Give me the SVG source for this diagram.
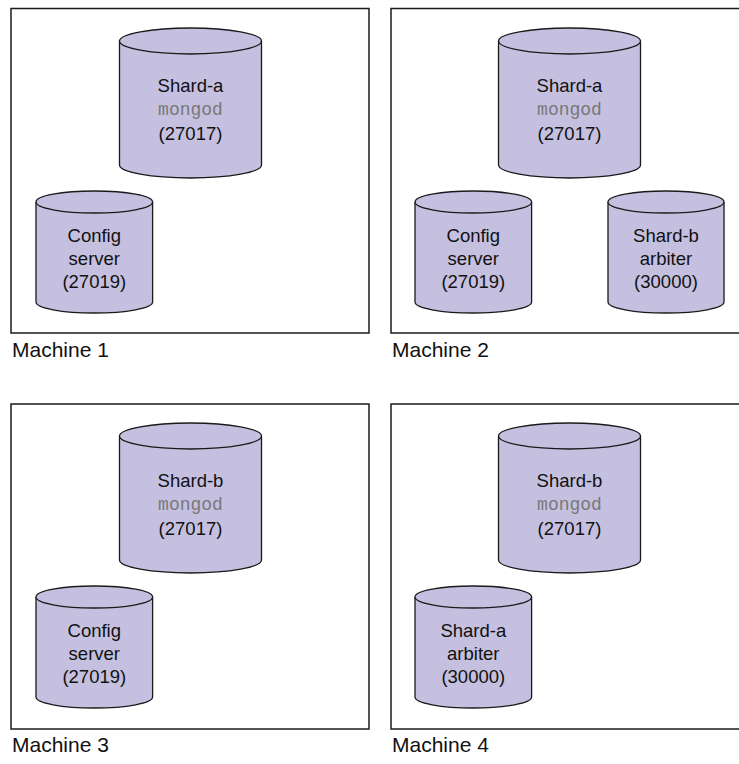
<svg xmlns="http://www.w3.org/2000/svg" width="739" height="764" viewBox="0 0 739 764">
<defs>
<style>
.box{fill:#ffffff;stroke:#1a1a1a;stroke-width:1.5}
.cyl{fill:#c5c0e0;stroke:#1a1a1a;stroke-width:1.3}
.t{font-family:"Liberation Sans",Arial,sans-serif;font-size:18.5px;fill:#111111;text-anchor:middle}
.m{font-family:"Liberation Mono","Courier New",monospace;font-size:18px;fill:#787878;text-anchor:middle}
.lbl{font-family:"Liberation Sans",Arial,sans-serif;font-size:21px;fill:#111111}
</style>
</defs>
<rect width="739" height="764" fill="#ffffff"/>
<g id="machine1">
<rect class="box" x="11" y="8.5" width="358" height="324.5"/>
<text class="lbl" x="12" y="357">Machine 1</text>
</g>
<g id="machine2">
<rect class="box" x="391" y="8.5" width="352" height="324.5"/>
<text class="lbl" x="392" y="357">Machine 2</text>
</g>
<g id="machine3">
<rect class="box" x="11" y="404" width="358" height="325"/>
<text class="lbl" x="12" y="752">Machine 3</text>
</g>
<g id="machine4">
<rect class="box" x="391" y="404" width="352" height="325"/>
<text class="lbl" x="392" y="752">Machine 4</text>
</g>
<g id="m1-shard-a">
<path class="cyl" d="M119.5,41 L119.5,165 A71,13 0 0 0 261.5,165 L261.5,41 A71,13 0 0 0 119.5,41 Z"/>
<path class="cyl" d="M119.5,41 A71,13 0 0 0 261.5,41" fill="none"/>
<text class="t" x="190.5" y="92">Shard-a</text>
<text class="m" x="190.5" y="115">mongod</text>
<text class="t" x="190.5" y="140">(27017)</text>
</g>
<g id="m1-config">
<path class="cyl" d="M36,202 L36,302 A58.3,11 0 0 0 152.6,302 L152.6,202 A58.3,11 0 0 0 36,202 Z"/>
<path class="cyl" d="M36,202 A58.3,11 0 0 0 152.6,202" fill="none"/>
<text class="t" x="94.3" y="242">Config</text>
<text class="t" x="94.3" y="265">server</text>
<text class="t" x="94.3" y="288">(27019)</text>
</g>
<g id="m2-shard-a">
<path class="cyl" d="M498.5,41 L498.5,165 A71,13 0 0 0 640.5,165 L640.5,41 A71,13 0 0 0 498.5,41 Z"/>
<path class="cyl" d="M498.5,41 A71,13 0 0 0 640.5,41" fill="none"/>
<text class="t" x="569.5" y="92">Shard-a</text>
<text class="m" x="569.5" y="115">mongod</text>
<text class="t" x="569.5" y="140">(27017)</text>
</g>
<g id="m2-config">
<path class="cyl" d="M415,202 L415,302 A58.3,11 0 0 0 531.6,302 L531.6,202 A58.3,11 0 0 0 415,202 Z"/>
<path class="cyl" d="M415,202 A58.3,11 0 0 0 531.6,202" fill="none"/>
<text class="t" x="473.3" y="242">Config</text>
<text class="t" x="473.3" y="265">server</text>
<text class="t" x="473.3" y="288">(27019)</text>
</g>
<g id="m2-shard-b-arbiter">
<path class="cyl" d="M608,202 L608,302 A58,11 0 0 0 724,302 L724,202 A58,11 0 0 0 608,202 Z"/>
<path class="cyl" d="M608,202 A58,11 0 0 0 724,202" fill="none"/>
<text class="t" x="666" y="242">Shard-b</text>
<text class="t" x="666" y="265">arbiter</text>
<text class="t" x="666" y="288">(30000)</text>
</g>
<g id="m3-shard-b">
<path class="cyl" d="M119.5,436 L119.5,560 A71,13 0 0 0 261.5,560 L261.5,436 A71,13 0 0 0 119.5,436 Z"/>
<path class="cyl" d="M119.5,436 A71,13 0 0 0 261.5,436" fill="none"/>
<text class="t" x="190.5" y="487">Shard-b</text>
<text class="m" x="190.5" y="510">mongod</text>
<text class="t" x="190.5" y="535">(27017)</text>
</g>
<g id="m3-config">
<path class="cyl" d="M36,597 L36,697 A58.3,11 0 0 0 152.6,697 L152.6,597 A58.3,11 0 0 0 36,597 Z"/>
<path class="cyl" d="M36,597 A58.3,11 0 0 0 152.6,597" fill="none"/>
<text class="t" x="94.3" y="637">Config</text>
<text class="t" x="94.3" y="660">server</text>
<text class="t" x="94.3" y="683">(27019)</text>
</g>
<g id="m4-shard-b">
<path class="cyl" d="M498.5,436 L498.5,560 A71,13 0 0 0 640.5,560 L640.5,436 A71,13 0 0 0 498.5,436 Z"/>
<path class="cyl" d="M498.5,436 A71,13 0 0 0 640.5,436" fill="none"/>
<text class="t" x="569.5" y="487">Shard-b</text>
<text class="m" x="569.5" y="510">mongod</text>
<text class="t" x="569.5" y="535">(27017)</text>
</g>
<g id="m4-shard-a-arbiter">
<path class="cyl" d="M415,597 L415,697 A58.3,11 0 0 0 531.6,697 L531.6,597 A58.3,11 0 0 0 415,597 Z"/>
<path class="cyl" d="M415,597 A58.3,11 0 0 0 531.6,597" fill="none"/>
<text class="t" x="473.3" y="637">Shard-a</text>
<text class="t" x="473.3" y="660">arbiter</text>
<text class="t" x="473.3" y="683">(30000)</text>
</g>
<g id="connectors"></g>
</svg>
